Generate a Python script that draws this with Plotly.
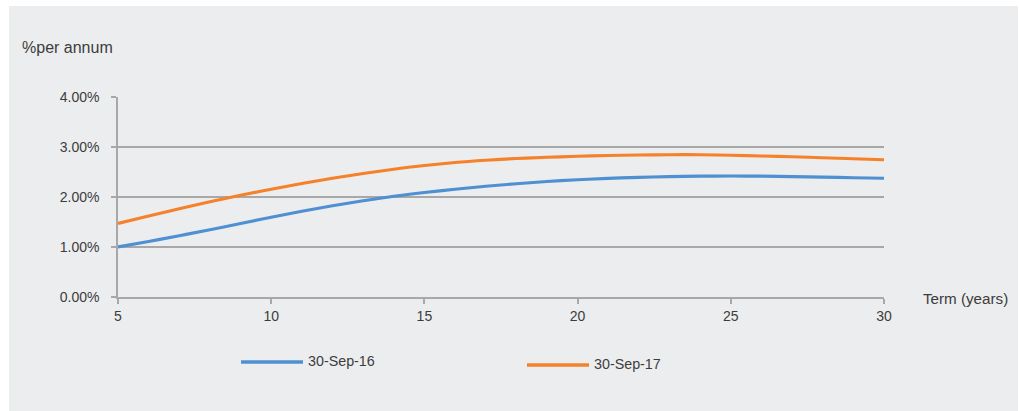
import plotly.graph_objects as go

# Yield curve: term in years vs. rate (% per annum)
terms = list(range(5, 31))
rates_sep16 = [1.00, 1.11, 1.225, 1.345, 1.47, 1.595, 1.715, 1.825, 1.925, 2.015,
               2.09, 2.155, 2.215, 2.265, 2.31, 2.345, 2.372, 2.393, 2.408, 2.417,
               2.42, 2.416, 2.407, 2.396, 2.385, 2.375]
rates_sep17 = [1.47, 1.62, 1.765, 1.905, 2.035, 2.155, 2.27, 2.375, 2.47, 2.555,
               2.63, 2.69, 2.735, 2.77, 2.795, 2.815, 2.83, 2.84, 2.845, 2.845,
               2.835, 2.82, 2.805, 2.785, 2.765, 2.745]
series_names = ["30-Sep-16", "30-Sep-17"]
series_colors = ["#4E90D2", "#F5822A"]
y_ticks = [0, 1, 2, 3, 4]
y_tick_labels = ["0.00%", "1.00%", "2.00%", "3.00%", "4.00%"]
x_ticks = [5, 10, 15, 20, 25, 30]

W, H = 1019, 411
ML, MR, MT, MB = 118, 135, 97, 114
PW, PH = W - ML - MR, H - MT - MB
FONT = "Liberation Sans, Arial, sans-serif"
TEXT = "#3C3C3C"
BG = "#ECEDEF"
GRID = "#A8A8A8"


def px(x):
    return (x - ML) / PW


def py(y):
    return (H - MB - y) / PH


fig = go.Figure()
for name, vals, col in zip(series_names, [rates_sep16, rates_sep17], series_colors):
    fig.add_trace(go.Scatter(x=terms, y=vals, mode="lines", name=name,
                             line=dict(color=col, width=3.2, shape="spline",
                                       smoothing=1.0),
                             showlegend=False, cliponaxis=False))

shapes = [
    # white page edges around the grey panel
    dict(type="rect", xref="paper", yref="paper", x0=px(-5), x1=px(9),
         y0=py(H + 5), y1=py(-5), fillcolor="white", line_width=0, layer="below"),
    dict(type="rect", xref="paper", yref="paper", x0=px(-5), x1=px(W + 5),
         y0=py(6), y1=py(-5), fillcolor="white", line_width=0, layer="below"),
    dict(type="rect", xref="paper", yref="paper", x0=px(1018), x1=px(W + 5),
         y0=py(H + 5), y1=py(-5), fillcolor="white", line_width=0, layer="below"),
]
annotations = [
    dict(text="%per annum", xref="paper", yref="paper", x=px(20), y=py(47),
         xanchor="left", yanchor="middle", showarrow=False,
         font=dict(family=FONT, size=16, color=TEXT)),
    dict(text="Term (years)", xref="paper", yref="paper", x=px(921), y=py(298),
         xanchor="left", yanchor="middle", showarrow=False,
         font=dict(family=FONT, size=15.2, color=TEXT)),
]

# legend entries drawn below the plot
legend_pos = [(241, 362), (527, 365)]
for (lx, ly), name, col in zip(legend_pos, series_names, series_colors):
    shapes.append(dict(type="line", xref="paper", yref="paper",
                       x0=px(lx), x1=px(lx + 62), y0=py(ly), y1=py(ly),
                       line=dict(color=col, width=3.5)))
    annotations.append(dict(text=name, xref="paper", yref="paper",
                            x=px(lx + 65), y=py(ly - 1), xanchor="left",
                            yanchor="middle", showarrow=False,
                            font=dict(family=FONT, size=14.3, color=TEXT)))

fig.update_layout(
    width=W, height=H,
    margin=dict(l=ML, r=MR, t=MT, b=MB),
    paper_bgcolor=BG, plot_bgcolor=BG,
    shapes=shapes, annotations=annotations,
    font=dict(family=FONT, size=14, color=TEXT),
    xaxis=dict(range=[5, 30], tickvals=x_ticks, showgrid=False,
               showline=True, linecolor=GRID, linewidth=1.5,
               ticks="outside", ticklen=5, tickcolor=GRID, tickwidth=1.5,
               zeroline=False, fixedrange=True,
               tickfont=dict(family=FONT, size=14, color=TEXT)),
    yaxis=dict(range=[0, 4], tickvals=y_ticks, ticktext=y_tick_labels,
               showgrid=True, gridcolor=GRID, gridwidth=1.5,
               showline=True, linecolor=GRID, linewidth=1.5,
               ticks="outside", ticklen=5, tickcolor=GRID, tickwidth=1.5,
               ticklabelstandoff=9, zeroline=False, fixedrange=True,
               tickfont=dict(family=FONT, size=14, color=TEXT)),
)

fig.write_html("out.html", config={"displayModeBar": False})
